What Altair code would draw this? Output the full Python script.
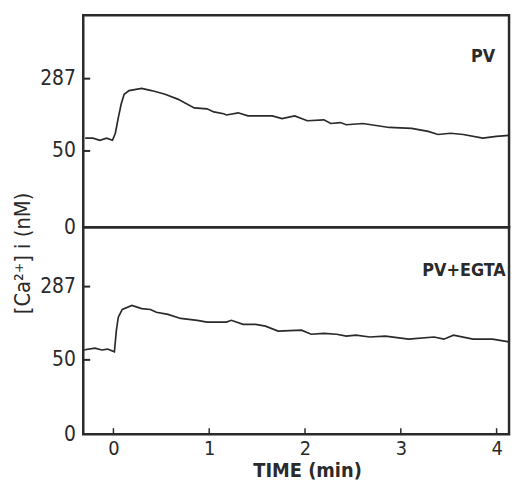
import altair as alt
import pandas as pd

# ---- data (time in min, [Ca2+]i in nM) ----
t_pv = [-0.295, -0.214, -0.142, -0.071, -0.010, 0.020, 0.051, 0.081, 0.112, 0.163,
        0.295, 0.397, 0.539, 0.671, 0.844, 0.977, 1.048, 1.150, 1.180, 1.302,
        1.404, 1.658, 1.760, 1.892, 2.024, 2.197, 2.269, 2.370, 2.431, 2.604,
        2.879, 3.113, 3.286, 3.388, 3.520, 3.652, 3.856, 3.998, 4.130]
ca_pv = [92, 92, 85, 92, 85, 108, 159, 204, 236, 248,
         255, 248, 236, 220, 191, 188, 178, 172, 168, 175,
         165, 165, 156, 165, 149, 152, 140, 143, 136, 140,
         127, 124, 114, 104, 108, 104, 92, 98, 101]

t_egta = [-0.315, -0.193, -0.122, -0.061, 0.010, 0.031, 0.051, 0.092, 0.193, 0.295,
          0.387, 0.448, 0.570, 0.702, 0.875, 0.977, 1.180, 1.231, 1.353, 1.485,
          1.587, 1.719, 1.963, 2.065, 2.197, 2.330, 2.431, 2.533, 2.675, 2.838,
          3.082, 3.347, 3.449, 3.550, 3.754, 3.957, 4.130]
ca_egta = [82, 88, 82, 85, 76, 146, 188, 213, 226, 216,
           213, 204, 197, 184, 178, 172, 172, 178, 165, 165,
           159, 143, 146, 133, 136, 133, 127, 130, 124, 127,
           117, 124, 117, 130, 117, 117, 108]

y_tick_values = [0, 50, 287]
y_inner_ticks = [50, 287]
x_tick_values = [0, 1, 2, 3, 4]
panel_labels = ["PV", "PV+EGTA"]
label_t = [3.86, 3.66]
label_ca = [358, 338]

X_DOMAIN = [-0.315, 4.13]
W = 430
FONT = "DejaVu Sans Condensed, Liberation Sans, sans-serif"
INK = "#2a2a2a"


def panel(t, ca, label, lt, lca, H, rng, top, bottom_axis, y_title):
    xs = alt.Scale(domain=X_DOMAIN, nice=False, zero=False)
    ys = alt.Scale(domain=[0, 50, 287, top], range=rng, nice=False, zero=False)
    df = pd.DataFrame({"t": t, "ca": ca})

    if bottom_axis:
        xaxis = alt.Axis(values=x_tick_values, format="d", domain=False, ticks=False,
                         grid=False, labelFont=FONT, labelFontSize=20, labelColor=INK,
                         labelPadding=5, labelFlush=False, labelOverlap=False,
                         title="TIME (min)", titleFont=FONT, titleFontSize=20,
                         titleFontWeight="bold", titleColor=INK, titlePadding=2,
                         titleX=226)
    else:
        xaxis = None

    yaxis_kwargs = dict(values=y_tick_values, format="d", domain=False, ticks=False,
                        grid=False, labelFont=FONT, labelFontSize=21, labelColor=INK,
                        labelPadding=8, labelOverlap=False, labelFlush=False)
    if y_title:
        yaxis = alt.Axis(title="[Ca²⁺] i (nM)", titleFont=FONT, titleFontSize=22,
                         titleFontWeight="normal", titleColor=INK, titleX=-61,
                         titleY=240, titleAngle=270, titleAlign="center",
                         titleBaseline="middle", **yaxis_kwargs)
    else:
        yaxis = alt.Axis(title=None, **yaxis_kwargs)

    line = alt.Chart(df).mark_line(color=INK, strokeWidth=1.7, interpolate="linear").encode(
        x=alt.X("t:Q", scale=xs, axis=xaxis),
        y=alt.Y("ca:Q", scale=ys, axis=yaxis),
    )

    yt = alt.Chart(pd.DataFrame({"v": y_inner_ticks})).mark_rule(
        color=INK, strokeWidth=2).encode(
        x=alt.value(0), x2=alt.value(7), y=alt.Y("v:Q", scale=ys))

    layers = [line, yt]
    if bottom_axis:
        xt = alt.Chart(pd.DataFrame({"v": x_tick_values})).mark_rule(
            color=INK, strokeWidth=1.5).encode(
            x=alt.X("v:Q", scale=xs), y=alt.value(H), y2=alt.value(H - 6))
        layers.append(xt)

    txt = alt.Chart(pd.DataFrame({"t": [lt], "ca": [lca], "lab": [label]})).mark_text(
        font=FONT, fontSize=18, fontWeight="bold", color=INK, align="center",
        baseline="middle").encode(
        x=alt.X("t:Q", scale=xs), y=alt.Y("ca:Q", scale=ys), text="lab:N")
    layers.append(txt)

    return alt.layer(*layers).properties(width=W, height=H)


top = panel(t_pv, ca_pv, panel_labels[0], label_t[0], label_ca[0],
            214, [214, 137, 64, 0], 492, False, True)
bottom = panel(t_egta, ca_egta, panel_labels[1], label_t[1], label_ca[1],
               209, [209, 134, 60, 0], 482, True, False)

chart = alt.vconcat(top, bottom, spacing=0, bounds="flush").properties(
    padding={"left": 2, "top": 3, "right": 0, "bottom": 0}
).configure(
    background="white"
).configure_view(
    stroke=INK, strokeWidth=2.5
)

chart.save("out.html", embed_options={"renderer": "svg", "actions": False})
